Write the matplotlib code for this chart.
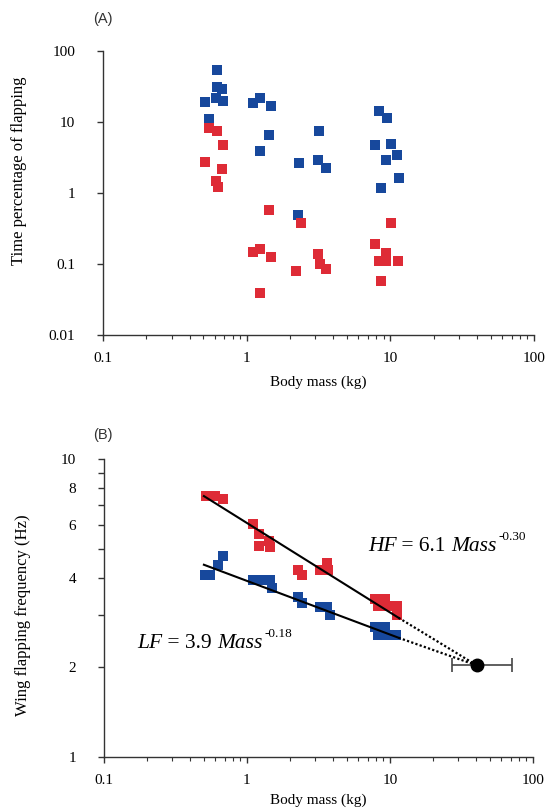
import numpy as np
import matplotlib
matplotlib.use("Agg")
import matplotlib.pyplot as plt
from matplotlib.ticker import FixedLocator, FixedFormatter, LogLocator, NullLocator, NullFormatter

plt.rcParams['font.family'] = ['Liberation Serif', 'DejaVu Serif']

BLUE = '#17489c'
RED = '#de2b36'
AXC = '#333333'

# ---- Panel A data ----
a_blue_mass = [0.62, 0.62, 0.67, 0.51, 0.61, 0.68, 0.55,
               1.10, 1.23, 1.47, 1.44, 1.23,
               2.26, 2.32, 3.2, 3.15, 3.55,
               8.3, 9.4, 7.8, 10.1, 11.2, 9.3, 11.4, 8.6]
a_blue_pct = [54, 31.4, 29.2, 18.9, 21.6, 19.8, 10.9,
              18.7, 21.6, 17, 6.5, 3.94,
              0.49, 2.67, 7.4, 2.92, 2.23,
              14.4, 11.3, 4.7, 4.95, 3.43, 2.92, 1.61, 1.16]
a_red_mass = [0.55, 0.62, 0.68, 0.51, 0.67, 0.61, 0.63,
              1.44, 1.10, 1.23, 1.47, 1.23,
              2.22, 2.4, 3.15, 3.22, 3.55,
              10.1, 7.8, 9.3, 8.3, 9.3, 11.3, 8.6]
a_red_pct = [8.15, 7.5, 4.8, 2.73, 2.2, 1.48, 1.23,
             0.57, 0.148, 0.161, 0.124, 0.039,
             0.079, 0.374, 0.137, 0.1, 0.084,
             0.378, 0.191, 0.141, 0.110, 0.110, 0.110, 0.058]

# ---- Panel B data ----
b_red_mass = [0.52, 0.60, 0.68, 1.11, 1.22, 1.22, 1.42, 1.45,
              2.29, 2.41, 3.24, 3.6, 3.7, 7.9, 9.2, 8.3, 9.5, 11.2, 11.2]
b_red_freq = [7.5, 7.5, 7.35, 6.05, 5.6, 5.1, 5.3, 5.05,
              4.24, 4.08, 4.24, 4.47, 4.24, 3.4, 3.4, 3.2, 3.2, 3.2, 3.0]
b_blue_mass = [0.51, 0.55, 0.63, 0.68, 1.11, 1.27, 1.45, 1.49,
               2.29, 2.41, 3.24, 3.6, 3.8, 7.9, 9.2, 8.2, 9.4, 11.1]
b_blue_freq = [4.08, 4.08, 4.41, 4.73, 3.93, 3.93, 3.93, 3.68,
               3.45, 3.29, 3.19, 3.19, 3.0, 2.74, 2.74, 2.57, 2.57, 2.57]

hf_coef, hf_exp = 6.1, -0.30
lf_coef, lf_exp = 3.9, -0.18
fit_range = [0.5, 11.5]
extrap_mass = 40.5
extrap_freq = 2.03
extrap_lo, extrap_hi = 27.0, 71.0

x_ticks = [0.1, 1, 10, 100]
x_ticklabels = ['0.1', '1', '10', '100']
a_yticks = [0.01, 0.1, 1, 10, 100]
a_yticklabels = ['0.01', '0.1', '1', '10', '100']
b_yticks = [1, 2, 3, 4, 5, 6, 7, 8, 9, 10]
b_yticklabels = ['1', '2', '', '4', '', '6', '', '8', '', '10']

fig = plt.figure(figsize=(5.5, 8.1), dpi=100)
axA = fig.add_axes([0.1873, 0.5864, 0.7837, 0.3506])
axB = fig.add_axes([0.189, 0.0654, 0.780, 0.3679])


def style(ax):
    ax.set_xscale('log')
    ax.set_yscale('log')
    ax.set_xlim(0.1, 100)
    for s in ['top', 'right']:
        ax.spines[s].set_visible(False)
    for s in ['left', 'bottom']:
        ax.spines[s].set_color(AXC)
        ax.spines[s].set_linewidth(1.0)
    ax.xaxis.set_major_locator(FixedLocator(x_ticks))
    ax.xaxis.set_major_formatter(FixedFormatter(x_ticklabels))
    ax.xaxis.set_minor_locator(LogLocator(base=10, subs=np.arange(2, 10)))
    ax.xaxis.set_minor_formatter(NullFormatter())
    ax.tick_params(axis='x', which='major', direction='out', length=4, width=1, color=AXC,
                   labelsize=11, pad=8)
    ax.tick_params(axis='x', which='minor', direction='out', length=3, width=0.8, color=AXC)
    ax.tick_params(axis='y', which='both', direction='out', length=4, width=1, color=AXC,
                   labelsize=11, pad=16)


def equation(ax, x, y, name, coef, expo):
    t = ax.text(x, y, name, transform=ax.transAxes, fontsize=15.5, style='italic',
                ha='left', va='baseline')
    t2 = ax.annotate(' = ' + coef + ' ', xy=(1, 0), xycoords=t, fontsize=15.5,
                     ha='left', va='bottom')
    t3 = ax.annotate('Mass', xy=(1, 0), xycoords=t2, fontsize=15.5, style='italic',
                     ha='left', va='bottom')
    ax.annotate(expo, xy=(1, 1), xycoords=t3, xytext=(1.5, -4), textcoords='offset points',
                fontsize=9.5, ha='left', va='bottom')


# Panel A
style(axA)
axA.set_ylim(0.01, 100)
axA.yaxis.set_major_locator(FixedLocator(a_yticks))
axA.yaxis.set_major_formatter(FixedFormatter(a_yticklabels))
axA.yaxis.set_minor_locator(NullLocator())
axA.scatter(a_blue_mass, a_blue_pct, marker='s', s=48, color=BLUE, linewidths=0, zorder=3)
axA.scatter(a_red_mass, a_red_pct, marker='s', s=48, color=RED, linewidths=0, zorder=3)
axA.set_xlabel('Body mass (kg)', fontsize=11, labelpad=8)
axA.set_ylabel('Time percentage of flapping', fontsize=12)
axA.yaxis.set_label_coords(-0.176, 0.58)
fig.text(0.17, 0.977, '(A)', family='Liberation Sans', fontsize=10.5, color='#333333',
         ha='left', va='center')

# Panel B
style(axB)
axB.set_ylim(1, 10)
axB.yaxis.set_major_locator(FixedLocator(b_yticks))
axB.yaxis.set_major_formatter(FixedFormatter(b_yticklabels))
axB.yaxis.set_minor_locator(NullLocator())
axB.scatter(b_blue_mass, b_blue_freq, marker='s', s=48, color=BLUE, linewidths=0, zorder=3)
axB.scatter(b_red_mass, b_red_freq, marker='s', s=48, color=RED, linewidths=0, zorder=3)

m_fit = np.array(fit_range)
axB.plot(m_fit, hf_coef * m_fit ** hf_exp, color='black', lw=1.5, zorder=4)
axB.plot(m_fit, lf_coef * m_fit ** lf_exp, color='black', lw=1.5, zorder=4)
m_ext = np.array([fit_range[1], extrap_mass])
axB.plot(m_ext, [hf_coef * fit_range[1] ** hf_exp, extrap_freq], color='black', lw=1.6,
         ls=(0, (1, 1)), zorder=4)
axB.plot(m_ext, [lf_coef * fit_range[1] ** lf_exp, extrap_freq], color='black', lw=1.6,
         ls=(0, (1, 1)), zorder=4)
axB.errorbar([extrap_mass], [extrap_freq],
             xerr=[[extrap_mass - extrap_lo], [extrap_hi - extrap_mass]],
             fmt='o', color='black', ms=9, ecolor='#444444', elinewidth=1.2, capsize=5,
             capthick=1.2, zorder=5)

equation(axB, 0.615, 0.691, 'HF', '6.1', '-0.30')
equation(axB, 0.077, 0.366, 'LF', '3.9', '-0.18')

axB.set_xlabel('Body mass (kg)', fontsize=11, labelpad=5)
axB.set_ylabel('Wing flapping frequency (Hz)', fontsize=12)
axB.yaxis.set_label_coords(-0.17, 0.477)
fig.text(0.17, 0.463, '(B)', family='Liberation Sans', fontsize=10.5, color='#333333',
         ha='left', va='center')

fig.savefig('out.png', dpi=100)
